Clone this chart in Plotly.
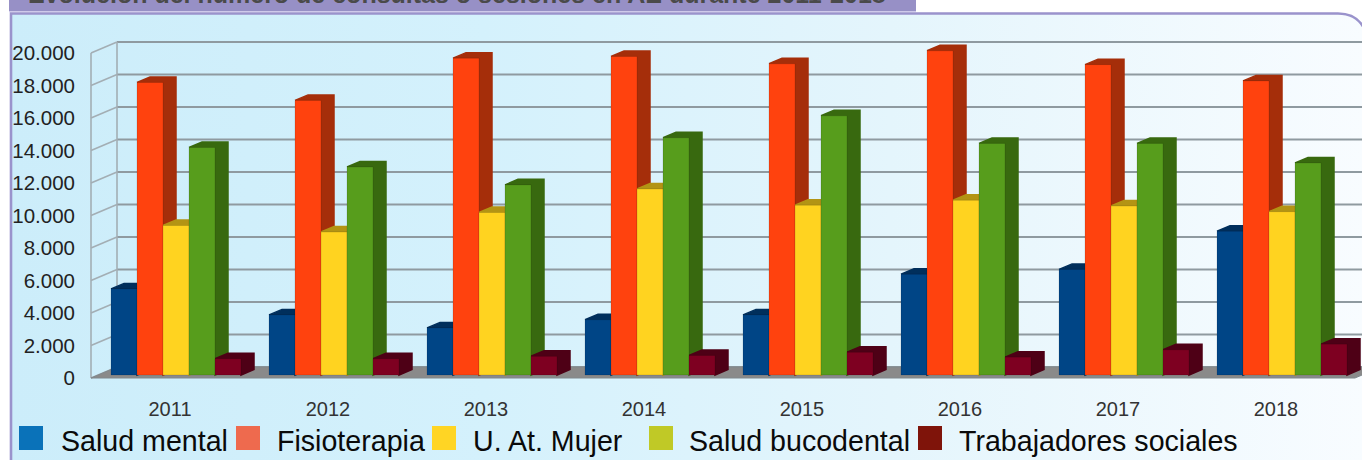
import base64
import plotly.graph_objects as go

# ---- data ----
years = ["2011", "2012", "2013", "2014", "2015", "2016", "2017", "2018"]
salud_mental = [5300, 3700, 2900, 3400, 3700, 6200, 6500, 8850]
fisioterapia = [18000, 16900, 19500, 19600, 19150, 19950, 19100, 18100]
mujer = [9200, 8800, 10000, 11450, 10450, 10750, 10400, 10050]
bucodental = [14000, 12800, 11700, 14600, 15950, 14250, 14250, 13050]
trabajadores = [1000, 1000, 1150, 1200, 1400, 1100, 1550, 1900]
series_names = ["Salud mental", "Fisioterapia", "U. At. Mujer", "Salud bucodental", "Trabajadores sociales"]
y_ticks = list(range(0, 20001, 2000))
y_labels = ["0", "2.000", "4.000", "6.000", "8.000", "10.000", "12.000", "14.000", "16.000", "18.000", "20.000"]
title_text = "Evolución del número de consultas o sesiones en AE durante 2011-2018"

series = [salud_mental, fisioterapia, mujer, bucodental, trabajadores]

# ---- style ----
W, H = 1362, 460
front_colors = ["#004586", "#ff420e", "#ffd320", "#579d1c", "#7e0021"]
side_colors = ["#002f5c", "#a52e0a", "#b39414", "#38690f", "#4e0016"]
legend_colors = ["#0a72b9", "#ee6a4e", "#ffd524", "#c0c926", "#7f140a"]
legend_sq_x = [19, 236, 432, 649, 918]
legend_tx_x = [59, 275, 471, 687, 957]

PX_X = 158.0            # px per category
PX_Y = 0.01625          # px per unit value
CAT0 = 170.0            # px of first category
ZERO = 378.0            # px of value 0, front plane
BAR_SHIFT_X, BAR_SHIFT_Y = 6.0, 3.0
GROUP = 130 / PX_X
W1 = GROUP / 5
WALL_DX, WALL_DY = 26 / PX_X, 11 / PX_Y
BAR_DX, BAR_DY = 13 / PX_X, 5.5 / PX_Y
X_LEFT, X_RIGHT = -0.5, 7.5


def xrange_for(cat0):
    return [-cat0 / PX_X, (W - cat0) / PX_X]


def yrange_for(zero):
    return [(zero - H) / PX_Y, zero / PX_Y]


# ---- panel drawn as a background picture ----
svg = f'''<svg xmlns="http://www.w3.org/2000/svg" width="{W}" height="{H}" viewBox="0 0 {W} {H}">
<defs><linearGradient id="g" x1="0" y1="0" x2="1" y2="0">
<stop offset="0" stop-color="#ccedfa"/><stop offset="0.35" stop-color="#d4f1fc"/>
<stop offset="0.65" stop-color="#e4f5fc"/><stop offset="1" stop-color="#f8fcff"/></linearGradient></defs>
<rect width="{W}" height="{H}" fill="#ffffff"/>
<rect x="9" y="-2" width="907" height="13" fill="#9790c6"/>
<rect x="9" y="11" width="907" height="1.2" fill="#cfcaea"/>
<path d="M11,13.5 H1338 Q1356,13.5 1364,28 V{H+4} H11 Z" fill="url(#g)" stroke="#9a93cc" stroke-width="2.6"/>
</svg>'''
panel_uri = "data:image/svg+xml;base64," + base64.b64encode(svg.encode()).decode()

fig = go.Figure()

# ---- walls, grid, floor (back plane offset from front plane) ----
gx, gy = [], []
for v in y_ticks:
    gx += [X_LEFT + WALL_DX, X_RIGHT + WALL_DX, None]
    gy += [v + WALL_DY, v + WALL_DY, None]
fig.add_trace(go.Scatter(x=gx, y=gy, mode="lines", line=dict(color="#8f9aa0", width=2), hoverinfo="skip", showlegend=False))

wx, wy = [], []
for v in y_ticks:
    wx += [X_LEFT, X_LEFT + WALL_DX, None]
    wy += [v, v + WALL_DY, None]
wx += [X_LEFT, X_LEFT, None, X_LEFT + WALL_DX, X_LEFT + WALL_DX]
wy += [0, y_ticks[-1], None, WALL_DY, y_ticks[-1] + WALL_DY]
fig.add_trace(go.Scatter(x=wx, y=wy, mode="lines", line=dict(color="#a3aeb4", width=1.6), hoverinfo="skip", showlegend=False))

fig.add_trace(go.Scatter(
    x=[X_LEFT, X_RIGHT, X_RIGHT + WALL_DX, X_LEFT + WALL_DX, X_LEFT],
    y=[0, 0, WALL_DY, WALL_DY, 0], mode="lines", fill="toself", fillcolor="#8a8a8a",
    line=dict(color="#80888c", width=1), hoverinfo="skip", showlegend=False))

# ---- bar depth faces, behind the fronts ----
for k, vals in enumerate(series):
    sx, sy = [], []
    for i, v in enumerate(vals):
        l = i + (k - 2) * W1 - W1 / 2
        r = l + W1
        sx += [l, l + BAR_DX, r + BAR_DX, r + BAR_DX, r, r, l, None]
        sy += [v, v + BAR_DY, v + BAR_DY, BAR_DY, 0, v, v, None]
    fig.add_trace(go.Scatter(x=sx, y=sy, mode="lines", fill="toself", fillcolor=side_colors[k],
                             line=dict(color=side_colors[k], width=1.5), hoverinfo="skip",
                             showlegend=False, xaxis="x2", yaxis="y2"))

# ---- bar fronts ----
for k, vals in enumerate(series):
    fig.add_trace(go.Bar(x=list(range(len(years))), y=vals, name=series_names[k],
                         marker=dict(color=front_colors[k], line=dict(color="rgba(0,0,0,0.12)", width=1)),
                         showlegend=False, xaxis="x3", yaxis="y3"))

# ---- hand-placed legend ----
shapes, annotations = [], []
for k, name in enumerate(series_names):
    shapes.append(dict(type="rect", xref="paper", yref="paper", layer="above",
                       x0=legend_sq_x[k] / W, x1=(legend_sq_x[k] + 24) / W,
                       y0=1 - 450 / H, y1=1 - 426 / H, fillcolor=legend_colors[k], line=dict(width=0)))
    annotations.append(dict(xref="paper", yref="paper", x=legend_tx_x[k] / W, y=1 - 441 / H, text=name,
                            showarrow=False, xanchor="left", yanchor="middle",
                            font=dict(family="Liberation Sans", size=28.6, color="#0a0a0a")))
annotations.append(dict(xref="paper", yref="paper", x=26 / W, y=1 - 10 / H, text="<b>" + title_text + "</b>",
                        showarrow=False, xanchor="left", yanchor="bottom",
                        font=dict(family="Liberation Sans", size=25, color="#4a4a4a")))

hidden = dict(visible=False, fixedrange=True)
fig.update_layout(
    width=W, height=H, margin=dict(l=0, r=0, t=0, b=0), paper_bgcolor="#ffffff", plot_bgcolor="rgba(0,0,0,0)",
    barmode="group", bargap=1 - GROUP, bargroupgap=0, showlegend=False,
    shapes=shapes, annotations=annotations,
    images=[dict(source=panel_uri, xref="paper", yref="paper", x=0, y=1, sizex=1, sizey=1,
                 xanchor="left", yanchor="top", sizing="stretch", layer="below")],
    xaxis=dict(domain=[0, 1], range=xrange_for(CAT0), anchor="free", position=(H - ZERO) / H,
               tickmode="array", tickvals=list(range(len(years))), ticktext=years,
               showgrid=False, zeroline=False, showline=False, ticks="", ticklabelstandoff=17,
               tickfont=dict(family="Liberation Sans", size=20, color="#333333"), fixedrange=True),
    yaxis=dict(domain=[0, 1], range=yrange_for(ZERO), anchor="free", position=91 / W, side="left",
               tickmode="array", tickvals=y_ticks, ticktext=y_labels,
               showgrid=False, zeroline=False, showline=False, ticks="", ticklabelstandoff=16,
               tickfont=dict(family="Liberation Sans", size=20.5, color="#222222"), fixedrange=True),
    xaxis2=dict(overlaying="x", range=xrange_for(CAT0 + BAR_SHIFT_X), anchor="y2", **hidden),
    yaxis2=dict(overlaying="y", range=yrange_for(ZERO - BAR_SHIFT_Y), anchor="x2", **hidden),
    xaxis3=dict(overlaying="x", range=xrange_for(CAT0 + BAR_SHIFT_X), anchor="y3", **hidden),
    yaxis3=dict(overlaying="y", range=yrange_for(ZERO - BAR_SHIFT_Y), anchor="x3", **hidden),
)

fig.write_html("out.html", config=dict(displayModeBar=False),
               post_script="document.body.style.margin='0';")
